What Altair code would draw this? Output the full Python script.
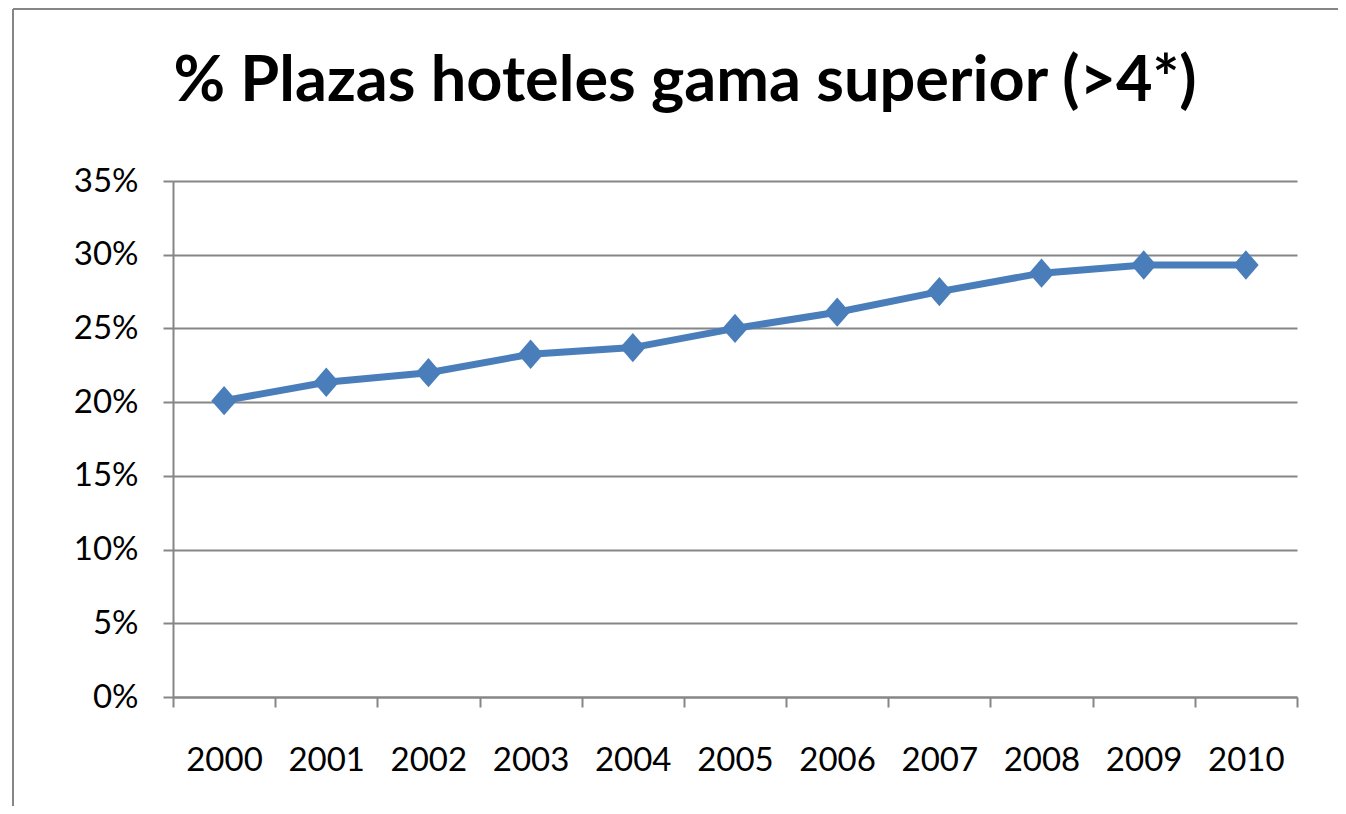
import altair as alt
import pandas as pd

years = [2000, 2001, 2002, 2003, 2004, 2005, 2006, 2007, 2008, 2009, 2010]
share = [0.201, 0.2135, 0.220, 0.2325, 0.237, 0.250, 0.261, 0.275, 0.2875, 0.293, 0.293]
y_ticks = [0.0, 0.05, 0.10, 0.15, 0.20, 0.25, 0.30, 0.35]
x_bounds = [1999.5 + i for i in range(12)]
title_text = "% Plazas hoteles gama superior (>4*)"

df = pd.DataFrame({"year": years, "share": share})

GRAY = "#868686"
BLUE = "#4A7EBB"
FONT = "Lato"

x_enc = alt.X(
    "year:Q",
    scale=alt.Scale(domain=[1999.5, 2010.5], nice=False, zero=False),
    axis=alt.Axis(
        values=x_bounds,
        labelExpr="datum.value > 2010 ? '' : format(datum.value + 0.5, 'd')",
        labelOffset=51,
        tickSize=10,
        tickWidth=2,
        tickColor=GRAY,
        domainColor=GRAY,
        domainWidth=2,
        grid=False,
        labelFont=FONT,
        labelFontSize=33,
        labelColor="black",
        labelPadding=37,
        labelFlush=False,
        labelOverlap=False,
        labelBound=False,
        title=None,
    ),
)
y_enc = alt.Y(
    "share:Q",
    scale=alt.Scale(domain=[0, 0.35], nice=False),
    axis=alt.Axis(
        values=y_ticks,
        format=".0%",
        tickSize=10,
        tickWidth=2,
        tickColor=GRAY,
        domainColor=GRAY,
        domainWidth=2,
        grid=True,
        gridColor=GRAY,
        gridWidth=2,
        labelFont=FONT,
        labelFontSize=33,
        labelColor="black",
        labelPadding=25,
        title=None,
    ),
)

one = pd.DataFrame({"a": [0]})
frame_left = alt.Chart(one).mark_rule(color=GRAY, strokeWidth=2).encode(
    x=alt.value(-160), y=alt.value(-172), y2=alt.value(625)
)
frame_top = alt.Chart(one).mark_rule(color=GRAY, strokeWidth=2).encode(
    x=alt.value(-160), x2=alt.value(1165), y=alt.value(-172)
)

line = alt.Chart(df).mark_line(color=BLUE, strokeWidth=7).encode(x=x_enc, y=y_enc)
pts = alt.Chart(df).mark_point(
    shape="M-1,0L0,-1.15L1,0L0,1.15Z", filled=True, color=BLUE, opacity=1, size=650
).encode(x="year:Q", y="share:Q")

chart = alt.layer(frame_left, frame_top, line, pts).properties(
    width=1124,
    height=516,
    padding={"left": 165, "top": 173, "right": 41, "bottom": 109},
    autosize=alt.AutoSizeParams(type="none"),
    title=alt.TitleParams(
        title_text,
        font=FONT,
        fontSize=63,
        fontWeight="bold",
        color="black",
        anchor="middle",
        frame="group",
        dx=-50,
        baseline="alphabetic",
        offset=-156,
    ),
).configure_view(stroke=None)

chart.save("out.html", embed_options={"renderer": "svg", "actions": False})
